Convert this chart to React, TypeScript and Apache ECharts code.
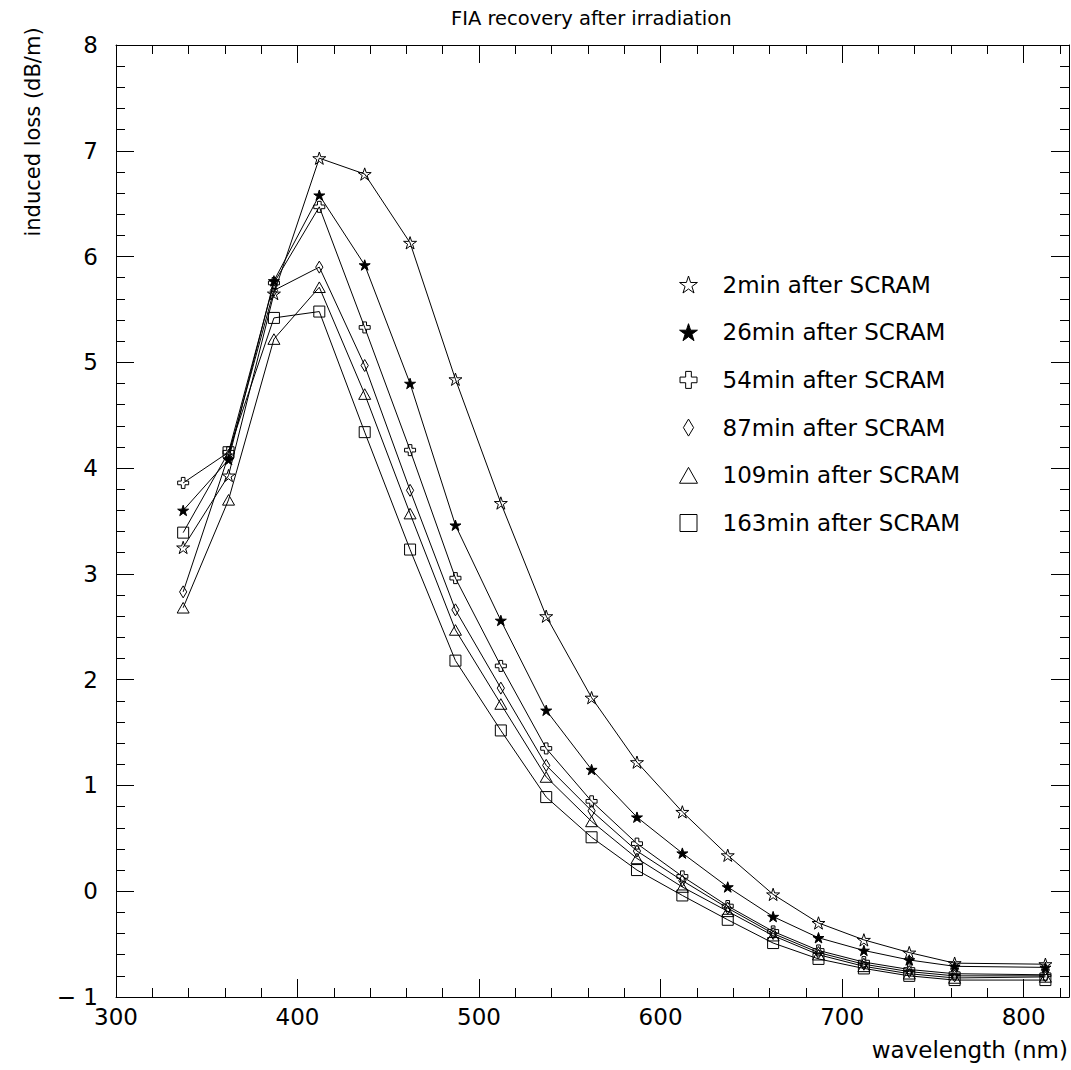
import React, { useEffect, useRef } from "react";
import * as echarts from "echarts";

const WAVELENGTH = [337, 362, 387, 412, 437, 462, 487, 512, 537, 562, 587, 612, 637, 662, 687, 712, 737, 762, 812];

const SERIES_NAMES = [
  "2min after SCRAM",
  "26min after SCRAM",
  "54min after SCRAM",
  "87min after SCRAM",
  "109min after SCRAM",
  "163min after SCRAM",
];

const LOSS_2MIN = [3.25, 3.93, 5.65, 6.93, 6.78, 6.13, 4.84, 3.67, 2.6, 1.83, 1.22, 0.75, 0.34, -0.03, -0.3, -0.46, -0.58, -0.68, -0.69];
const LOSS_26MIN = [3.6, 4.08, 5.77, 6.58, 5.92, 4.8, 3.46, 2.56, 1.71, 1.15, 0.7, 0.36, 0.04, -0.24, -0.44, -0.56, -0.65, -0.71, -0.72];
const LOSS_54MIN = [3.86, 4.15, 5.75, 6.47, 5.33, 4.17, 2.96, 2.13, 1.35, 0.85, 0.45, 0.14, -0.14, -0.38, -0.56, -0.67, -0.74, -0.78, -0.79];
const LOSS_87MIN = [2.83, 4.12, 5.68, 5.9, 4.97, 3.79, 2.66, 1.92, 1.19, 0.76, 0.38, 0.1, -0.16, -0.4, -0.58, -0.69, -0.76, -0.8, -0.8];
const LOSS_109MIN = [2.68, 3.7, 5.22, 5.71, 4.7, 3.57, 2.47, 1.77, 1.08, 0.66, 0.31, 0.04, -0.19, -0.42, -0.6, -0.71, -0.78, -0.82, -0.81];
const LOSS_163MIN = [3.39, 4.15, 5.42, 5.48, 4.34, 3.23, 2.18, 1.52, 0.89, 0.51, 0.2, -0.04, -0.27, -0.49, -0.64, -0.73, -0.8, -0.84, -0.84];

const X_MIN = 300;
const X_MAX = 825;
const Y_MIN = -1;
const Y_MAX = 8;

const STAR = "path://M50 0L61.23 34.55L97.55 34.55L68.17 55.9L79.39 90.45L50 69.1L20.61 90.45L31.83 55.9L2.45 34.55L38.77 34.55Z";
const CROSS = "path://M1 0H2V1H3V2H2V3H1V2H0V1H1Z";
const DIAMOND = "path://M3 0L6 5L3 10L0 5Z";
const TRIANGLE = "path://M0 15L8.5 0L17 15Z";
const SQUARE = "path://M0 0H10V10H0Z";

const FONT = "DejaVu Sans";

const HOLLOW = { color: "rgba(0,0,0,0)", borderColor: "#000", borderWidth: 1 };
const FILLED = { color: "#000", borderColor: "#000", borderWidth: 1 };

export default function App() {
  const ref = useRef<HTMLDivElement>(null);

  useEffect(() => {
    if (!ref.current) return;
    const chart = echarts.init(ref.current, undefined, { renderer: "svg" });

    const allValues = [LOSS_2MIN, LOSS_26MIN, LOSS_54MIN, LOSS_87MIN, LOSS_109MIN, LOSS_163MIN];
    const symbols = [STAR, STAR, CROSS, DIAMOND, TRIANGLE, SQUARE];
    const sizes = [13, 11, 11, 12, 12, 11];
    const styles = [HOLLOW, FILLED, HOLLOW, HOLLOW, HOLLOW, HOLLOW];

    const series = allValues.map((vals, i) => ({
      type: "line",
      name: SERIES_NAMES[i],
      xAxisIndex: 0,
      yAxisIndex: 0,
      data: WAVELENGTH.map((w, j) => [w, vals[j]]),
      symbol: symbols[i],
      symbolSize: sizes[i],
      symbolKeepAspect: true,
      showAllSymbol: true,
      lineStyle: { color: "#000", width: 1 },
      itemStyle: styles[i],
      emphasis: { disabled: true },
      z: 2,
    }));

    const majorX = (pos: string, labels: boolean) => ({
      type: "value",
      position: pos,
      min: X_MIN,
      max: X_MAX,
      interval: 100,
      axisLine: { show: true, onZero: false, lineStyle: { color: "#000", width: 1 } },
      axisTick: { show: true, inside: true, length: 18, lineStyle: { color: "#000" } },
      axisLabel: {
        show: labels,
        showMaxLabel: false,
        margin: 8,
        color: "#000",
        fontFamily: FONT,
        fontSize: 23,
      },
      splitLine: { show: false },
    });
    const minorX = (pos: string) => ({
      type: "value",
      position: pos,
      min: X_MIN,
      max: X_MAX,
      interval: 20,
      axisLine: { show: false, onZero: false },
      axisTick: { show: true, inside: true, length: 9, lineStyle: { color: "#000" } },
      axisLabel: { show: false },
      splitLine: { show: false },
    });
    const yAx = (pos: string, labels: boolean) => ({
      type: "value",
      position: pos,
      min: Y_MIN,
      max: Y_MAX,
      interval: 1,
      axisLine: { show: true, onZero: false, lineStyle: { color: "#000", width: 1 } },
      axisTick: { show: true, inside: true, length: 18, lineStyle: { color: "#000" } },
      minorTick: { show: true, splitNumber: 5, length: 9, lineStyle: { color: "#000" } },
      axisLabel: {
        show: labels,
        margin: 18,
        color: "#000",
        fontFamily: FONT,
        fontSize: 23,
        formatter: (v: number) => (v < 0 ? "\u2212 " + Math.abs(v) : String(v)),
      },
      splitLine: { show: false },
      minorSplitLine: { show: false },
    });

    chart.setOption({
      animation: false,
      backgroundColor: "#fff",
      title: {
        text: "FIA recovery after irradiation",
        left: 451,
        top: 8,
        padding: 0,
        textStyle: { fontFamily: FONT, fontSize: 19.5, fontWeight: "normal", color: "#000" },
      },
      grid: { left: 116, right: 2, top: 45, bottom: 73, containLabel: false, outerBoundsMode: "none" },
      xAxis: [majorX("bottom", true), minorX("bottom"), majorX("top", false), minorX("top")],
      yAxis: [yAx("left", true), yAx("right", false)],
      legend: {
        orient: "vertical",
        left: 674,
        top: 268,
        itemWidth: 18,
        itemHeight: 17,
        itemGap: 24.7,
        selectedMode: false,
        symbolKeepAspect: true,
        textStyle: { fontFamily: FONT, fontSize: 23, color: "#000", padding: [0, 0, 0, 20] },
        data: SERIES_NAMES.map((n, i) => ({
          name: n,
          icon: symbols[i],
          itemStyle: styles[i],
        })),
      },
      graphic: [
        {
          type: "text",
          x: 33,
          y: 132,
          rotation: Math.PI / 2,
          style: {
            text: "induced loss (dB/m)",
            fontFamily: FONT,
            fontSize: 21,
            fill: "#000",
            textAlign: "center",
            textVerticalAlign: "middle",
          },
        },
        {
          type: "text",
          x: 1068,
          y: 1050,
          style: {
            text: "wavelength (nm)",
            fontFamily: FONT,
            fontSize: 23,
            fill: "#000",
            textAlign: "right",
            textVerticalAlign: "middle",
          },
        },
      ],
      series,
    });

    return () => chart.dispose();
  }, []);

  return (
    <div
      ref={ref}
      style={{ position: "fixed", left: 0, top: 0, width: 1071, height: 1070, background: "#fff" }}
    />
  );
}
